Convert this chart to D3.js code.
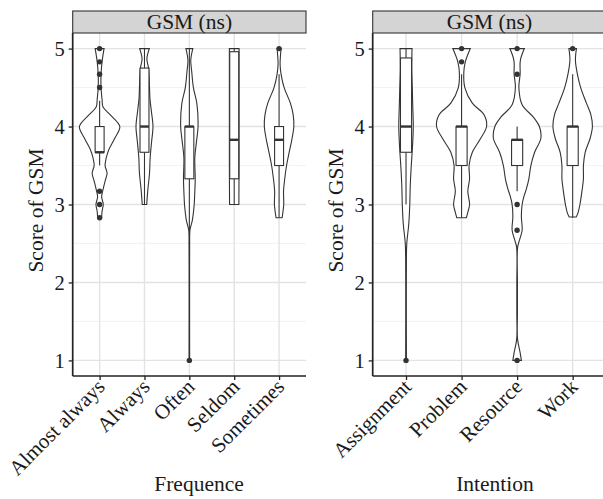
<!DOCTYPE html>
<html>
<head>
<meta charset="utf-8">
<script src="https://cdn.jsdelivr.net/npm/d3@7"></script>
<style>
body{margin:0;background:#fff;}
svg text{font-family:"Liberation Serif","Times New Roman",serif !important;fill:#1a1a1a;}
</style>
</head>
<body>
<script>
// categories
const freqCats=["Almost always","Always","Often","Seldom","Sometimes"];
const intentCats=["Assignment","Problem","Resource","Work"];

// violin outlines: [score, relative half-width]
const freqViolins=[
  [[2.83,0.1],[2.91,0.12],[3.0,0.18],[3.1,0.1],[3.17,0.15],[3.3,0.27],[3.4,0.37],[3.5,0.27],[3.6,0.33],[3.7,0.45],[3.85,0.75],[4.0,1.0],[4.15,0.53],[4.25,0.17],[4.35,0.12],[4.5,0.07],[4.67,0.07],[4.83,0.12],[5.0,0.22]],
  [[3.0,0.11],[3.2,0.17],[3.4,0.25],[3.6,0.28],[3.8,0.35],[4.0,0.42],[4.2,0.34],[4.36,0.27],[4.5,0.25],[4.75,0.2],[4.87,0.12],[5.0,0.24]],
  [[1.0,0.015],[1.5,0.012],[2.0,0.012],[2.5,0.015],[2.67,0.03],[2.8,0.15],[3.0,0.24],[3.1,0.26],[3.33,0.29],[3.6,0.27],[3.8,0.35],[4.0,0.43],[4.3,0.37],[4.5,0.2],[4.7,0.12],[4.85,0.07],[5.0,0.17]],
  [[3.0,0.23],[3.5,0.24],[4.0,0.24],[4.5,0.24],[5.0,0.24]],
  [[2.83,0.15],[3.0,0.23],[3.17,0.22],[3.33,0.28],[3.5,0.37],[3.67,0.5],[3.83,0.63],[4.0,0.73],[4.15,0.7],[4.3,0.56],[4.5,0.25],[4.67,0.1],[4.8,0.05],[5.0,0.1]]
];
const intentViolins=[
  [[1.0,0.015],[1.5,0.012],[2.0,0.012],[2.3,0.015],[2.5,0.03],[2.75,0.11],[3.0,0.15],[3.25,0.17],[3.5,0.21],[3.75,0.26],[4.0,0.29],[4.25,0.27],[4.5,0.25],[4.75,0.23],[5.0,0.24]],
  [[2.83,0.19],[2.9,0.25],[3.0,0.32],[3.17,0.25],[3.33,0.32],[3.5,0.3],[3.67,0.43],[3.83,0.73],[4.0,1.0],[4.15,0.9],[4.3,0.43],[4.5,0.13],[4.7,0.09],[4.83,0.15],[5.0,0.35]],
  [[1.0,0.17],[1.1,0.12],[1.28,0.015],[1.6,0.012],[2.0,0.012],[2.45,0.02],[2.55,0.1],[2.67,0.2],[2.85,0.17],[3.0,0.2],[3.1,0.27],[3.2,0.37],[3.33,0.47],[3.5,0.55],[3.67,0.7],[3.85,0.95],[4.0,0.89],[4.12,0.65],[4.28,0.2],[4.5,0.07],[4.67,0.12],[4.85,0.13],[5.0,0.29]],
  [[2.84,0.14],[2.89,0.21],[3.0,0.29],[3.19,0.38],[3.33,0.43],[3.5,0.43],[3.67,0.5],[3.85,0.7],[4.0,0.79],[4.15,0.73],[4.3,0.55],[4.5,0.32],[4.67,0.19],[4.85,0.11],[5.0,0.15]]
];

// box stats: [lower whisker, q1, median, q3, upper whisker]
const freqBoxes=[
  [3.5,3.67,3.67,4.0,4.33],
  [3.0,3.67,4.0,4.75,5.0],
  [2.67,3.33,4.0,4.0,5.0],
  [3.0,3.33,3.83,4.96,5.0],
  [2.83,3.5,3.83,4.0,4.67]
];
const intentBoxes=[
  [3.0,3.67,4.0,4.88,5.0],
  [2.83,3.5,4.0,4.0,4.67],
  [3.17,3.5,3.83,3.83,4.0],
  [2.83,3.5,4.0,4.0,4.67]
];

// outliers
const freqOutliers=[[5.0,4.83,4.67,4.5,3.17,3.0,2.83],[],[1.0],[],[5.0]];
const intentOutliers=[[1.0],[5.0,4.83],[5.0,4.67,3.0,2.67,1.0],[5.0]];

const yTicks=[1,2,3,4,5];
const yMinor=[1.5,2.5,3.5,4.5];

const W=603,H=499;
const svg=d3.select("body").append("svg").attr("width",W).attr("height",H);

const yScale=d3.scaleLinear().domain([0.8,5.2]).range([376,33]);
const ink="#333333";
const serif="Liberation Serif, Times New Roman, serif";

function panel(cats,violins,boxes,outliers,left,right,xTitle,xTitleX){
  const x=d3.scalePoint().domain(cats).range([left,right]).padding(0.6);
  const step=x.step();
  const ws=d3.scaleLinear().domain([0,1]).range([0,step*0.45]);
  const bw=step*0.2;
  const g=svg.append("g");
  const top=33,bottom=376;

  // grid
  g.selectAll(".minor").data(yMinor).enter().append("line")
    .attr("x1",left).attr("x2",right).attr("y1",d=>yScale(d)).attr("y2",d=>yScale(d))
    .attr("stroke","#efefef").attr("stroke-width",0.8);
  g.selectAll(".major").data(yTicks).enter().append("line")
    .attr("x1",left).attr("x2",right).attr("y1",d=>yScale(d)).attr("y2",d=>yScale(d))
    .attr("stroke","#e3e3e3").attr("stroke-width",1.4);
  g.selectAll(".vgrid").data(cats).enter().append("line")
    .attr("x1",d=>x(d)).attr("x2",d=>x(d)).attr("y1",top).attr("y2",bottom)
    .attr("stroke","#e3e3e3").attr("stroke-width",1.4);

  // violins
  cats.forEach((c,i)=>{
    const cx=x(c);
    const area=d3.area().curve(d3.curveCatmullRom)
      .y(d=>yScale(d[0])).x0(d=>cx-ws(d[1])).x1(d=>cx+ws(d[1]));
    g.append("path").attr("d",area(violins[i]))
      .attr("fill","#fff").attr("stroke",ink).attr("stroke-width",1.1);
  });

  // boxes
  cats.forEach((c,i)=>{
    const cx=x(c), b=boxes[i];
    g.append("line").attr("x1",cx).attr("x2",cx).attr("y1",yScale(b[3])).attr("y2",yScale(b[4]))
      .attr("stroke",ink).attr("stroke-width",1.1);
    g.append("line").attr("x1",cx).attr("x2",cx).attr("y1",yScale(b[0])).attr("y2",yScale(b[1]))
      .attr("stroke",ink).attr("stroke-width",1.1);
    g.append("rect").attr("x",cx-bw/2).attr("width",bw)
      .attr("y",yScale(b[3])).attr("height",yScale(b[1])-yScale(b[3]))
      .attr("fill","#fff").attr("stroke",ink).attr("stroke-width",1.1);
    g.append("line").attr("x1",cx-bw/2).attr("x2",cx+bw/2).attr("y1",yScale(b[2])).attr("y2",yScale(b[2]))
      .attr("stroke",ink).attr("stroke-width",2.4);
    g.selectAll(null).data(outliers[i]).enter().append("circle")
      .attr("cx",cx).attr("cy",d=>yScale(d)).attr("r",2.7).attr("fill",ink);
  });

  // axes
  const yAxis=d3.axisLeft(yScale).tickValues(yTicks).tickSize(4).tickPadding(4).tickFormat(d3.format("d"));
  const ya=g.append("g").attr("transform","translate("+left+",0)").call(yAxis)
    .attr("font-family",serif).attr("font-size",20.5);
  ya.select(".domain").attr("d","M0,"+top+"V"+bottom).attr("stroke","#222").attr("stroke-width",1.7);
  ya.selectAll(".tick line").attr("stroke","#222").attr("stroke-width",1.3);
  ya.selectAll(".tick text").attr("fill","#1a1a1a").attr("dy","0.34em");

  const xAxis=d3.axisBottom(x).tickSize(4).tickPadding(4);
  const xa=g.append("g").attr("transform","translate(0,"+bottom+")").call(xAxis)
    .attr("font-family",serif).attr("font-size",21);
  xa.select(".domain").attr("d","M"+left+",0H"+right).attr("stroke","#222").attr("stroke-width",1.7);
  xa.selectAll(".tick line").attr("stroke","#222").attr("stroke-width",1.3);
  xa.selectAll(".tick text").attr("fill","#1a1a1a")
    .attr("text-anchor","end").attr("dy",null).attr("y",null)
    .attr("transform","translate(6,12) rotate(-45)");

  // strip
  g.append("rect").attr("x",left).attr("y",11).attr("width",right-left).attr("height",22)
    .attr("fill","#d4d4d4").attr("stroke",ink).attr("stroke-width",1.1);
  g.append("text").attr("x",(left+right)/2).attr("y",29).attr("text-anchor","middle")
    .style("font-size","21.5px").text("GSM (ns)");

  // titles
  g.append("text").attr("transform","translate("+(left-30)+","+((top+bottom)/2+6)+") rotate(-90)")
    .attr("text-anchor","middle").style("font-size","21.5px").text("Score of GSM");
  g.append("text").attr("x",xTitleX).attr("y",491).attr("text-anchor","middle")
    .style("font-size","21.5px").text(xTitle);
}

panel(freqCats,freqViolins,freqBoxes,freqOutliers,72.7,306,"Frequence",199);
panel(intentCats,intentViolins,intentBoxes,intentOutliers,372.7,606,"Intention",495);
</script>
</body>
</html>
